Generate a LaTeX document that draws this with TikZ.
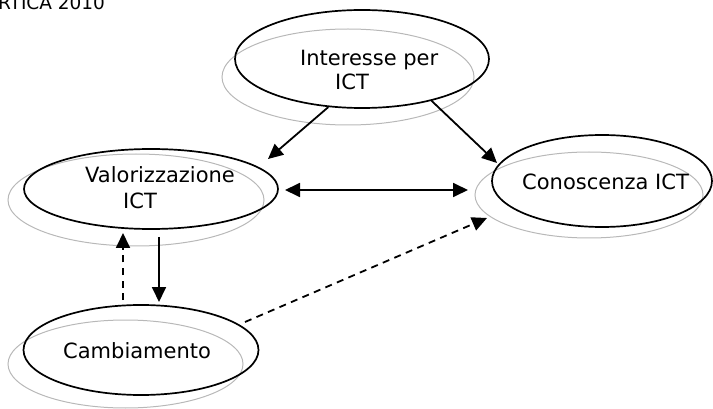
\documentclass[tikz,border=0pt]{standalone}
\usepackage{fontspec}
\setmainfont{DejaVu Sans}
\usetikzlibrary{arrows.meta,shapes.geometric}

\tikzset{
  bubble/.style={draw=black, line width=1.7pt, ellipse, inner sep=0pt},
  shade/.style={draw=black!28, line width=1pt, ellipse, inner sep=0pt},
  label/.style={anchor=base west, inner sep=0pt, font=\fontsize{21}{25}\selectfont},
  tip/.tip={Triangle[length=15pt,width=14pt]},
  link/.style={line width=1.8pt, -tip},
  twolink/.style={line width=1.8pt, tip-tip},
  dashlink/.style={link, dash pattern=on 7pt off 5.5pt}
}

\begin{document}
\begin{tikzpicture}[x=1pt, y=-1pt]
  \useasboundingbox (0,0) rectangle (713,409);

  % header line cut off at the top edge
  \node[anchor=base west, inner sep=0pt, font=\fontsize{18.5}{22}\selectfont] (head) at (-2,10) {RTICA 2010};

  % grey offset rings behind the concepts
  \node[shade, minimum width=252pt, minimum height=96pt] (intS) at (348,77) {};
  \node[shade, minimum width=256pt, minimum height=92pt] (valS) at (136,200) {};
  \node[shade, minimum width=228pt, minimum height=86pt] (conS) at (589,195) {};
  \node[shade, minimum width=235pt, minimum height=88pt] (camS) at (125.5,364) {};

  % concept ellipses
  \node[bubble, minimum width=254pt, minimum height=98pt] (int) at (362,59) {};
  \node[bubble, minimum width=254pt, minimum height=80pt] (val) at (151,189) {};
  \node[bubble, minimum width=220pt, minimum height=92pt] (con) at (602,181) {};
  \node[bubble, minimum width=235pt, minimum height=90pt] (cam) at (141,350) {};

  % texts
  \node[label] (intA) at (300,66) {Interesse per};
  \node[label] (intB) at (335,90) {ICT};
  \node[label] (valA) at (85,183) {Valorizzazione};
  \node[label] (valB) at (123,209) {ICT};
  \node[label] (conA) at (522,190) {Conoscenza ICT};
  \node[label] (camA) at (63,358) {Cambiamento};

  % arrow ends
  \coordinate (iv) at (268,159);
  \coordinate (ic) at (497,163);
  \coordinate (vcL) at (285,190);
  \coordinate (vcR) at (468,190);
  \coordinate (cvS) at (123,300);
  \coordinate (cvT) at (123,233);
  \coordinate (vcS) at (159,237);
  \coordinate (vcT) at (159,302);
  \coordinate (ccS) at (245,322);
  \coordinate (ccT) at (487,218);

  % connectors
  \draw[link] (int.235) -- (iv);
  \draw[link] (int.329) -- (ic);
  \draw[twolink] (vcL) -- (vcR);
  \draw[dashlink] (cvS) -- (cvT);
  \draw[link] (vcS) -- (vcT);
  \draw[dashlink] (ccS) -- (ccT);
\end{tikzpicture}
\end{document}
